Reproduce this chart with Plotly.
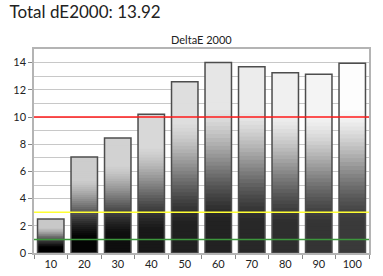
import plotly.graph_objects as go

categories = ["10", "20", "30", "40", "50", "60", "70", "80", "90", "100"]
delta_e = [2.5, 7.05, 8.45, 10.2, 12.6, 14.0, 13.7, 13.25, 13.15, 13.95]
total_de = 13.92
thresholds = [(10, "#ff1a1a"), (3, "#ffff33"), (1, "#3c963c")]
y_ticks = [0, 2, 4, 6, 8, 10, 12, 14]

# style: light (top) and dark (bottom) gray level per bar
top_gray = [200, 205, 210, 216, 222, 230, 236, 240, 244, 253]
bot_gray = [0, 4, 14, 24, 32, 34, 40, 46, 52, 58]

N = 48
fig = go.Figure()


def shade(t, lo, hi):
    # t: 0 bottom .. 1 top
    if t <= 0.17:
        s = 0.0
    elif t >= 0.76:
        s = 1.0
    else:
        u = (t - 0.17) / (0.76 - 0.17)
        s = u * u * (3 - 2 * u) * 0.5 + u * 0.5
    g = int(round(lo + (hi - lo) * s))
    return f"rgb({g},{g},{g})"


for k in range(N):
    t = (k + 0.5) / N
    fig.add_trace(go.Bar(
        x=categories,
        y=[v / N * (2.0 if k < N - 1 else 1.0) for v in delta_e],
        base=[v * k / N for v in delta_e],
        width=0.79,
        marker=dict(color=[shade(t, lo, hi) for lo, hi in zip(bot_gray, top_gray)],
                    line=dict(width=0)),
        hoverinfo="skip",
        showlegend=False,
    ))

fig.add_trace(go.Bar(
    x=categories,
    y=delta_e,
    base=[0] * len(delta_e),
    width=0.79,
    marker=dict(color="rgba(0,0,0,0)", line=dict(color="#4d4d4d", width=1.5)),
    showlegend=False,
))

for val, col in thresholds:
    fig.add_shape(type="line", xref="paper", x0=0, x1=1, yref="y", y0=val, y1=val,
                  line=dict(color=col, width=1.5), layer="above")

fig.update_layout(
    width=383, height=276,
    margin=dict(l=34, r=14, t=49, b=23),
    barmode="overlay",
    bargap=0.21,
    plot_bgcolor="white",
    paper_bgcolor="white",
    font=dict(family="Lato, Open Sans, sans-serif", size=11, color="#222222"),
    title=dict(text=f"Total dE2000: {total_de:.2f}", x=0.025, xanchor="left",
               y=0.955, yanchor="middle", font=dict(size=17, color="#222222")),
    annotations=[dict(text="DeltaE 2000", xref="paper", yref="paper", x=0.5, y=1.0,
                      xanchor="center", yanchor="bottom", yshift=1, showarrow=False,
                      font=dict(size=11, color="#222222"))],
)
fig.update_xaxes(type="category", range=[-0.5, 9.5], showgrid=False, automargin=False,
                 showline=True, mirror=True, linecolor="#b4b4b4", linewidth=1.5,
                 ticks="outside", tickson="boundaries", ticklen=4, tickcolor="#888888",
                 tickfont=dict(size=11))
fig.update_yaxes(range=[0, 15], tickvals=y_ticks, showgrid=True, gridcolor="#c8c8c8",
                 gridwidth=1.2, zeroline=False, automargin=False,
                 showline=True, mirror=True, linecolor="#b4b4b4", linewidth=1.5,
                 ticks="outside", ticklen=4, tickcolor="#888888",
                 minor=dict(dtick=1, showgrid=True, gridcolor="#c8c8c8", gridwidth=1.2),
                 tickfont=dict(size=11))

fig.write_html("out.html")
